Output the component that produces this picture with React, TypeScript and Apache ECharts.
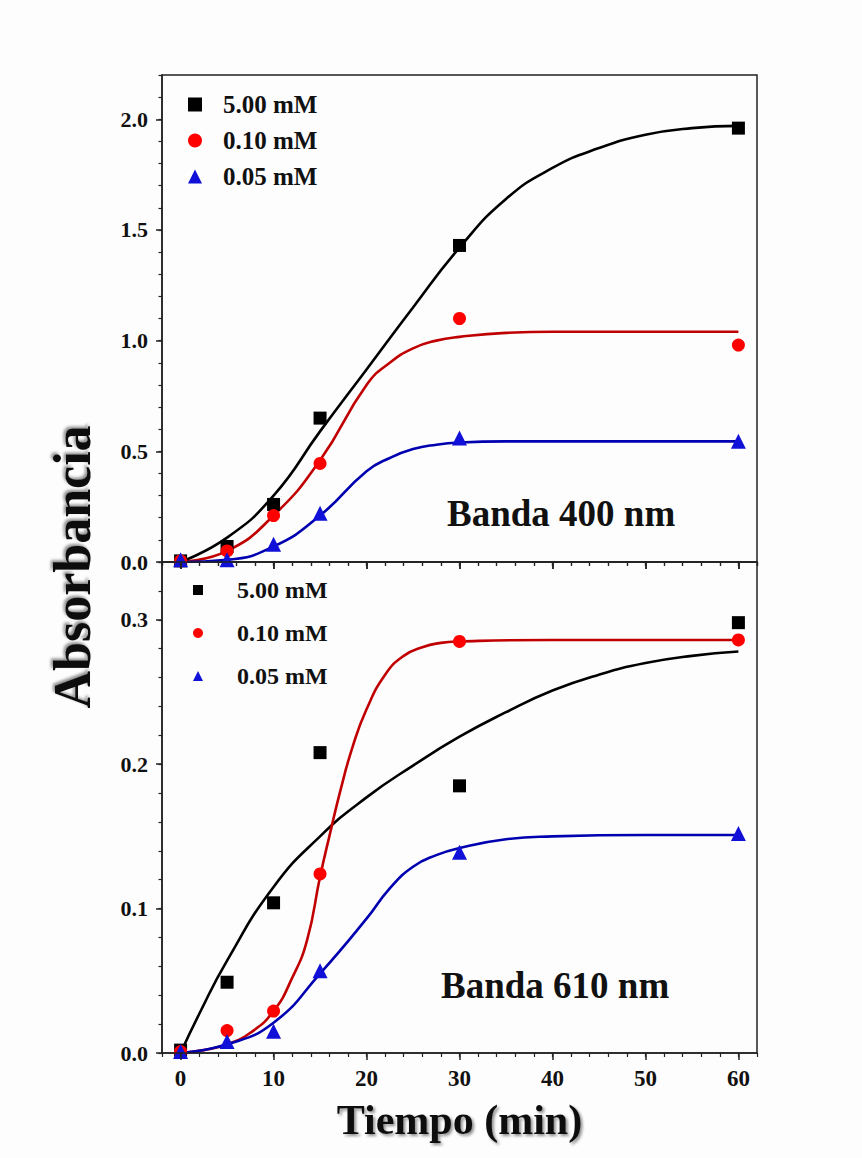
import React, { useEffect, useRef } from "react";
import * as echarts from "echarts";

// ---- measured points ----
const TIME = [0, 5, 10, 15, 30, 60];
const SERIES_NAMES = ["5.00 mM", "0.10 mM", "0.05 mM"];

// Banda 400 nm
const TOP_500 = [0.005, 0.07, 0.26, 0.65, 1.43, 1.96];
const TOP_010 = [0.005, 0.05, 0.21, 0.445, 1.1, 0.98];
const TOP_005 = [0.01, 0.01, 0.08, 0.22, 0.56, 0.545];

// Banda 610 nm
const BOT_500 = [0.002, 0.049, 0.104, 0.208, 0.185, 0.298];
const BOT_010 = [0.001, 0.0155, 0.029, 0.124, 0.285, 0.286];
const BOT_005 = [0.001, 0.008, 0.015, 0.057, 0.139, 0.152];

// ---- fitted curves ----
const FIT_TOP_500_T = [0, 5, 10, 15, 20, 25, 30, 35, 40, 45, 50, 55, 60];
const FIT_TOP_500 = [0, 0.11, 0.3, 0.59, 0.87, 1.15, 1.42, 1.64, 1.78, 1.87, 1.93, 1.96, 1.97];
const FIT_TOP_010_T = [0, 5, 10, 15, 20, 22.5, 25, 27.5, 30, 35, 40, 50, 60];
const FIT_TOP_010 = [0, 0.05, 0.21, 0.46, 0.8, 0.9, 0.965, 1.0, 1.017, 1.035, 1.04, 1.04, 1.04];
const FIT_TOP_005_T = [0, 5, 10, 15, 20, 22.5, 25, 27.5, 30, 35, 40, 50, 60];
const FIT_TOP_005 = [0, 0.01, 0.07, 0.21, 0.41, 0.47, 0.51, 0.53, 0.54, 0.545, 0.545, 0.545, 0.545];

const FIT_BOT_500_T = [0, 2, 5, 10, 15, 20, 25, 30, 35, 40, 45, 50, 55, 60];
const FIT_BOT_500 = [0, 0.027, 0.064, 0.115, 0.15, 0.177, 0.199, 0.219, 0.236, 0.251, 0.262, 0.27, 0.275, 0.278];
const FIT_BOT_010_T = [0, 2.5, 5, 7.5, 10, 12, 13.6, 15, 16, 17.2, 18.5, 20, 22, 24, 26, 28, 30, 40, 60];
const FIT_BOT_010 = [0, 0.002, 0.006, 0.014, 0.029, 0.052, 0.078, 0.122, 0.15, 0.182, 0.212, 0.238, 0.262, 0.275, 0.281, 0.284, 0.285, 0.286, 0.286];
const FIT_BOT_005_T = [0, 5, 10, 15, 20, 22.5, 25, 27.5, 30, 35, 40, 50, 60];
const FIT_BOT_005 = [0, 0.006, 0.021, 0.055, 0.093, 0.114, 0.129, 0.137, 0.142, 0.148, 0.15, 0.151, 0.151];

// ---- tick labels ----
const X_TICKS = [0, 10, 20, 30, 40, 50, 60];
const Y_TOP_TICKS = [0, 0.5, 1.0, 1.5, 2.0];
const Y_BOT_TICKS = [0, 0.1, 0.2, 0.3];

const FONT = "'Liberation Serif', 'Times New Roman', serif";
const AXIS_COLOR = "#222";
const COLORS = ["#000000", "#ff0000", "#1010d8"];
const LINE_COLORS = ["#000000", "#c00000", "#0000b0"];
const SYMBOLS = ["rect", "circle", "triangle"];
const SYMBOL_SIZES = [13, 13, 15];

const pairs = (xs: number[], ys: number[]) => xs.map((x, i) => [x, ys[i]]);

function mainX(gridIndex: number, labels: boolean): any {
  return {
    type: "value",
    gridIndex,
    position: "bottom",
    min: -2,
    max: 62,
    z: 10,
    axisLine: { show: true, onZero: false, lineStyle: { color: AXIS_COLOR, width: 1.5 } },
    axisTick: { show: true, inside: false, length: 7, customValues: X_TICKS, lineStyle: { color: AXIS_COLOR, width: 1.5 } },
    axisLabel: {
      show: labels,
      customValues: X_TICKS,
      margin: 14,
      color: "#111",
      fontFamily: FONT,
      fontWeight: "bold",
      fontSize: 23,
    },
    splitLine: { show: false },
  };
}

function minorX(gridIndex: number): any {
  return {
    type: "value",
    gridIndex,
    position: "bottom",
    min: -2,
    max: 62,
    interval: 2,
    z: 10,
    axisLine: { show: false, onZero: false },
    axisTick: { show: true, inside: false, length: 4, lineStyle: { color: AXIS_COLOR, width: 1.2 } },
    axisLabel: { show: false },
    splitLine: { show: false },
  };
}

// ticks hanging from the shared boundary into the lower panel
function boundaryX(gridIndex: number, major: boolean): any {
  return {
    type: "value",
    gridIndex,
    position: "top",
    min: -2,
    max: 62,
    interval: major ? undefined : 2,
    z: 10,
    axisLine: { show: false, onZero: false },
    axisTick: major
      ? { show: true, inside: true, length: 7, customValues: X_TICKS, lineStyle: { color: AXIS_COLOR, width: 1.5 } }
      : { show: true, inside: true, length: 4, lineStyle: { color: AXIS_COLOR, width: 1.2 } },
    axisLabel: { show: false },
    splitLine: { show: false },
  };
}

function mainY(gridIndex: number, max: number, ticks: number[]): any {
  return {
    type: "value",
    gridIndex,
    position: "left",
    min: 0,
    max,
    axisLine: { show: true, onZero: false, lineStyle: { color: AXIS_COLOR, width: 1.5 } },
    axisTick: { show: true, inside: false, length: 6, customValues: ticks, lineStyle: { color: AXIS_COLOR, width: 1.5 } },
    axisLabel: {
      show: true,
      customValues: ticks,
      margin: 14,
      formatter: (v: number) => v.toFixed(1),
      color: "#111",
      fontFamily: FONT,
      fontWeight: "bold",
      fontSize: 22,
    },
    splitLine: { show: false },
  };
}

function minorY(gridIndex: number, max: number, interval: number): any {
  return {
    type: "value",
    gridIndex,
    position: "left",
    min: 0,
    max,
    interval,
    axisLine: { show: false, onZero: false },
    axisTick: { show: true, inside: false, length: 3.5, lineStyle: { color: AXIS_COLOR, width: 1.2 } },
    axisLabel: { show: false },
    splitLine: { show: false },
  };
}

function scatter(name: string, idx: number, xAxisIndex: number, yAxisIndex: number, ys: number[]): any {
  return {
    type: "scatter",
    name,
    xAxisIndex,
    yAxisIndex,
    symbol: SYMBOLS[idx],
    symbolSize: SYMBOL_SIZES[idx],
    itemStyle: { color: COLORS[idx], opacity: 1 },
    z: 5,
    data: pairs(TIME, ys),
  };
}

function fit(name: string, idx: number, xAxisIndex: number, yAxisIndex: number, xs: number[], ys: number[]): any {
  return {
    type: "line",
    name,
    xAxisIndex,
    yAxisIndex,
    showSymbol: false,
    symbol: "none",
    smooth: 0.5,
    lineStyle: { color: LINE_COLORS[idx], width: 2.6 },
    z: 3,
    data: pairs(xs, ys),
  };
}

const shadow = {
  textShadowColor: "rgba(0,0,0,0.45)",
  textShadowBlur: 3,
  textShadowOffsetX: 2,
  textShadowOffsetY: 2,
};

export default function App() {
  const ref = useRef<HTMLDivElement>(null);

  useEffect(() => {
    if (!ref.current) return;
    const chart = echarts.init(ref.current, null, { renderer: "svg" });

    const xBottom = mainX(1, true);
    xBottom.name = "Tiempo (min)";
    xBottom.nameLocation = "middle";
    xBottom.nameGap = 46;
    xBottom.nameTextStyle = {
      fontFamily: FONT,
      fontWeight: "bold",
      fontSize: 42,
      color: "#111",
      ...shadow,
    };

    const option: any = {
      animation: false,
      backgroundColor: "#fdfdfd",
      grid: [
        { left: 162, top: 75, width: 595, height: 487, show: true, borderColor: AXIS_COLOR, borderWidth: 1.5, backgroundColor: "transparent" },
        { left: 162, top: 562, width: 595, height: 491, show: true, borderColor: AXIS_COLOR, borderWidth: 1.5, backgroundColor: "transparent" },
      ],
      xAxis: [mainX(0, false), minorX(0), xBottom, minorX(1), boundaryX(1, true), boundaryX(1, false)],
      yAxis: [
        mainY(0, 2.2, Y_TOP_TICKS),
        minorY(0, 2.2, 0.1),
        mainY(1, 0.34, Y_BOT_TICKS),
        minorY(1, 0.34, 0.02),
      ],
      legend: [
        {
          orient: "vertical",
          left: 183,
          top: 87,
          padding: 5,
          itemWidth: 14,
          itemHeight: 14,
          itemGap: 11,
          data: SERIES_NAMES,
          selectedMode: false,
          textStyle: {
            fontFamily: FONT,
            fontWeight: "bold",
            fontSize: 25,
            lineHeight: 25,
            color: "#111",
            padding: [0, 0, 0, 16],
          },
        },
        {
          orient: "vertical",
          left: 188,
          top: 573,
          padding: 5,
          itemWidth: 10,
          itemHeight: 10,
          itemGap: 19,
          data: SERIES_NAMES,
          selectedMode: false,
          textStyle: {
            fontFamily: FONT,
            fontWeight: "bold",
            fontSize: 24,
            lineHeight: 24,
            color: "#111",
            padding: [0, 0, 0, 29],
          },
        },
      ],
      graphic: [
        {
          type: "text",
          x: 72,
          y: 567,
          rotation: Math.PI / 2,
          style: {
            text: "Absorbancia",
            fontFamily: FONT,
            fontWeight: "bold",
            fontSize: 52,
            fill: "#111",
            align: "center",
            verticalAlign: "middle",
            textShadowColor: "rgba(0,0,0,0.45)",
            textShadowBlur: 3,
            textShadowOffsetX: 2,
            textShadowOffsetY: -2,
          },
        },
        {
          type: "text",
          x: 447,
          y: 513,
          z: 10,
          style: {
            text: "Banda 400 nm",
            fontFamily: FONT,
            fontWeight: "bold",
            fontSize: 37,
            fill: "#111",
            align: "left",
            verticalAlign: "middle",
          },
        },
        {
          type: "text",
          x: 441,
          y: 985,
          z: 10,
          style: {
            text: "Banda 610 nm",
            fontFamily: FONT,
            fontWeight: "bold",
            fontSize: 37,
            fill: "#111",
            align: "left",
            verticalAlign: "middle",
          },
        },
      ],
      series: [
        fit("fit-400-500", 0, 0, 0, FIT_TOP_500_T, FIT_TOP_500),
        fit("fit-400-010", 1, 0, 0, FIT_TOP_010_T, FIT_TOP_010),
        fit("fit-400-005", 2, 0, 0, FIT_TOP_005_T, FIT_TOP_005),
        scatter(SERIES_NAMES[0], 0, 0, 0, TOP_500),
        scatter(SERIES_NAMES[1], 1, 0, 0, TOP_010),
        scatter(SERIES_NAMES[2], 2, 0, 0, TOP_005),
        fit("fit-610-500", 0, 2, 2, FIT_BOT_500_T, FIT_BOT_500),
        fit("fit-610-010", 1, 2, 2, FIT_BOT_010_T, FIT_BOT_010),
        fit("fit-610-005", 2, 2, 2, FIT_BOT_005_T, FIT_BOT_005),
        scatter(SERIES_NAMES[0], 0, 2, 2, BOT_500),
        scatter(SERIES_NAMES[1], 1, 2, 2, BOT_010),
        scatter(SERIES_NAMES[2], 2, 2, 2, BOT_005),
      ],
    };

    chart.setOption(option);
    return () => chart.dispose();
  }, []);

  return (
    <div
      ref={ref}
      style={{ position: "absolute", left: 0, top: 0, width: 862, height: 1158 }}
    />
  );
}
